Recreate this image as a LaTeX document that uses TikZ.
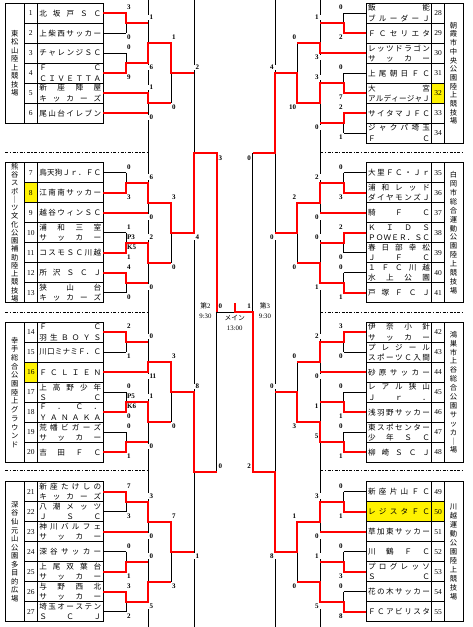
\documentclass[tikz,border=0pt]{standalone}
\usepackage{fontspec}
\setmainfont{Liberation Serif}
\newfontfamily\jp{Noto Sans CJK JP}
\newcommand\nmbox[1]{\makebox[62pt][s]{\spaceskip=0pt plus 1fil\relax #1}}
\newcount\nodecnt
\tikzset{
 autoname/.code={\global\advance\nodecnt by 1\relax\pgfkeysalso{/tikz/name=nd\the\nodecnt}},
 every node/.append style={autoname},
 bk/.style={black,line width=0.7pt},
 rd/.style={red,line width=2pt,line join=miter},
 box/.style={black,line width=0.7pt},
 dsh/.style={black,line width=1.3pt,dash pattern=on 3pt off 1.5pt on 1.2pt off 1.5pt},
 numt/.style={inner sep=0pt,font=\fontsize{7.5}{8}\selectfont},
 nmt/.style={inner sep=0pt,font={\jp\fontsize{7.6}{9}\selectfont}},
 ven/.style={inner sep=0pt,align=center},
 sc/.style={inner xsep=1pt,inner ysep=0.4pt,font=\fontsize{7}{7}\selectfont\bfseries},
 sl/.style={sc,anchor=west},
 sr/.style={sc,anchor=east},
 gl/.style={sc,anchor=west,fill=white,xshift=-0.6pt,inner xsep=1.6pt},
 gr/.style={sc,anchor=east,fill=white,xshift=0.6pt,inner xsep=2.1pt},
 tm/.style={inner sep=0pt,font=\fontsize{6.8}{7}\selectfont},
}
\newcommand\tmL[3]{\node[numt] at (30.8,#2) {#1};\node[nmt] at (70.3,#2) {\nmbox{#3}};}
\newcommand\tmLL[4]{\node[numt] at (30.8,#2) {#1};\node[nmt] at (70.3,#2-5.2) {\nmbox{#3}};\node[nmt] at (70.3,#2+5.2) {\nmbox{#4}};}
\newcommand\tmR[3]{\node[numt] at (438,#2) {#1};\node[nmt] at (399,#2) {\nmbox{#3}};}
\newcommand\tmRR[4]{\node[numt] at (438,#2) {#1};\node[nmt] at (399,#2-5.2) {\nmbox{#3}};\node[nmt] at (399,#2+5.2) {\nmbox{#4}};}
\newcommand\sco[4]{\node[#1] at (#2,#3) {#4};}
\begin{document}
\begin{tikzpicture}[x=1pt,y=-1pt]
\useasboundingbox (0,0) rectangle (473,627);
% yellow cells
\fill[yellow] (24.3,182.7) rectangle (37.3,202.7);
\fill[yellow] (24.3,362.3) rectangle (37.3,382.3);
\fill[yellow] (431.7,83.3) rectangle (444.3,103.3);
\fill[yellow] (366.3,501.7) rectangle (444.3,521.7);
% tables
\foreach \T/\n in {3.3/6,162.7/7,322.3/7,481.7/7}{
 \pgfmathtruncatemacro\m{\n-1}
 \draw[box] (5.3,\T) rectangle (103.3,{\T+20*\n});
 \draw[box] (24.3,\T) -- (24.3,{\T+20*\n}) (37.3,\T) -- (37.3,{\T+20*\n});
 \foreach \i in {1,...,\m} \draw[box] (24.3,{\T+20*\i}) -- (103.3,{\T+20*\i});
}
\foreach \T in {3.3,162.7,322.3,481.7}{
 \draw[box] (366.3,\T) rectangle (463,{\T+140});
 \draw[box] (431.7,\T) -- (431.7,{\T+140}) (444.3,\T) -- (444.3,{\T+140});
 \foreach \i in {1,...,6} \draw[box] (366.3,{\T+20*\i}) -- (444.3,{\T+20*\i});
}
% dashed separators
\foreach \y in {152.3,312.3,470.7}{
 \draw[dsh] (5.3,\y) -- (148.3,\y);
 \draw[dsh] (320.3,\y) -- (463,\y);
}
% long column lines
\foreach \x in {148.3,194.3,275.3,320.3} \draw[bk] (\x,0) -- (\x,627);
% ---------- left bracket (black) ----------
\foreach \y in {13.3,33.3,53.3,73.3,172.7,192.7,232.7,252.7,272.7,292.7,332.3,352.3,392.3,412.3,432.3,452.3,491.7,511.7,551.7,571.7,591.7,611.7}
 \draw[bk] (103.3,\y) -- (126,\y);
\foreach \y in {93.3,113.3,212.7,372.3,531.7} \draw[bk] (103.3,\y) -- (148.3,\y);
\foreach \a/\b/\c in {13.3/33.3/23.3,53.3/73.3/63.3,172.7/192.7/182.7,232.7/252.7/242.7,272.7/292.7/282.7,332.3/352.3/342.3,392.3/412.3/402.3,432.3/452.3/442.3,491.7/511.7/501.7,551.7/571.7/561.7,591.7/611.7/601.7}
 \draw[bk] (126,\a) -- (126,\b) (126,\c) -- (148.3,\c);
\foreach \a/\b/\c in {23.3/63.3/43.3,93.3/113.3/103.3,182.7/212.7/202.7,242.7/282.7/262.7,342.3/372.3/362.3,402.3/442.3/422.3,501.7/531.7/521.7,561.7/601.7/581.7}
 \draw[bk] (148.3,\a) -- (148.3,\b) (148.3,\c) -- (171,\c);
\foreach \a/\b/\c in {43.3/103.3/73.3,202.7/262.7/232.7,362.3/422.3/392.3,521.7/581.7/551.7}
 \draw[bk] (171,\a) -- (171,\b) (171,\c) -- (194.3,\c);
\draw[bk] (194.3,152.5) -- (216.7,152.5) (194.3,472) -- (216.7,472) (216.7,152.5) -- (216.7,472);
% ---------- right bracket (black) ----------
\foreach \y in {13.3,33.3,73.3,93.3,113.3,133.3,172.7,192.7,232.7,252.7,272.7,292.7,332.3,352.3,392.3,412.3,432.3,452.3,491.7,511.7,551.7,571.7,591.7,611.7}
 \draw[bk] (366.3,\y) -- (343.7,\y);
\foreach \y in {53.3,212.7,372.3,531.7} \draw[bk] (366.3,\y) -- (320.3,\y);
\foreach \a/\b/\c in {13.3/33.3/23.3,73.3/93.3/83.3,113.3/133.3/123.3,172.7/192.7/182.7,232.7/252.7/242.7,272.7/292.7/282.7,332.3/352.3/342.3,392.3/412.3/402.3,432.3/452.3/442.3,491.7/511.7/501.7,551.7/571.7/561.7,591.7/611.7/601.7}
 \draw[bk] (343.7,\a) -- (343.7,\b) (343.7,\c) -- (320.3,\c);
\foreach \a/\b/\c in {23.3/53.3/43.3,83.3/123.3/103.3,182.7/212.7/202.7,242.7/282.7/262.7,342.3/372.3/362.3,402.3/442.3/422.3,501.7/531.7/521.7,561.7/601.7/581.7}
 \draw[bk] (320.3,\a) -- (320.3,\b) (320.3,\c) -- (297.3,\c);
\foreach \a/\b/\c in {43.3/103.3/73.3,202.7/262.7/232.7,362.3/422.3/392.3,521.7/581.7/551.7}
 \draw[bk] (297.3,\a) -- (297.3,\b) (297.3,\c) -- (275.3,\c);
\draw[bk] (275.3,152.5) -- (252.7,152.5) (275.3,472) -- (252.7,472) (252.7,152.5) -- (252.7,472);
% final
\draw[bk] (216.7,312) -- (252.7,312);
% ---------- red (winners) ----------
\draw[rd] (103.3,13.3)--(126,13.3)--(126,23.3)--(148.3,23.3);
\draw[rd] (103.3,73.3)--(126,73.3)--(126,63.3)--(148.3,63.3)--(148.3,43.3)--(171,43.3)--(171,73.3)--(194.3,73.3);
\draw[rd] (103.3,93.3)--(148.3,93.3)--(148.3,103.3)--(171,103.3);
\draw[rd] (103.3,113.3)--(148.3,113.3);
\draw[rd] (103.3,192.7)--(126,192.7)--(126,182.7)--(148.3,182.7)--(148.3,202.7)--(171,202.7)--(171,232.7)--(194.3,232.7)--(194.3,152.5)--(216.7,152.5)--(216.7,312);
\draw[rd] (103.3,212.7)--(148.3,212.7);
\draw[rd] (103.3,252.7)--(126,252.7)--(126,242.7)--(148.3,242.7)--(148.3,262.7)--(171,262.7);
\draw[rd] (103.3,272.7)--(126,272.7)--(126,282.7)--(148.3,282.7);
\draw[rd] (103.3,332.3)--(126,332.3)--(126,342.3)--(148.3,342.3);
\draw[rd] (103.3,372.3)--(148.3,372.3)--(148.3,362.3)--(171,362.3)--(171,392.3)--(194.3,392.3)--(194.3,472)--(216.7,472);
\draw[rd] (103.3,412.3)--(126,412.3)--(126,402.3)--(148.3,402.3)--(148.3,422.3)--(171,422.3);
\draw[rd] (103.3,452.3)--(126,452.3)--(126,442.3)--(148.3,442.3);
\draw[rd] (103.3,491.7)--(126,491.7)--(126,501.7)--(148.3,501.7)--(148.3,521.7)--(171,521.7)--(171,551.7)--(194.3,551.7);
\draw[rd] (103.3,531.7)--(148.3,531.7);
\draw[rd] (103.3,571.7)--(126,571.7)--(126,561.7)--(148.3,561.7);
\draw[rd] (103.3,591.7)--(126,591.7)--(126,601.7)--(148.3,601.7)--(148.3,581.7)--(171,581.7);
\draw[rd] (366.3,33.3)--(343.7,33.3)--(343.7,23.3)--(320.3,23.3);
\draw[rd] (366.3,53.3)--(320.3,53.3)--(320.3,43.3)--(297.3,43.3);
\draw[rd] (366.3,93.3)--(343.7,93.3)--(343.7,83.3)--(320.3,83.3)--(320.3,103.3)--(297.3,103.3)--(297.3,73.3)--(275.3,73.3)--(275.3,152.5)--(252.7,152.5);
\draw[rd] (366.3,113.3)--(343.7,113.3)--(343.7,123.3)--(320.3,123.3);
\draw[rd] (366.3,192.7)--(343.7,192.7)--(343.7,182.7)--(320.3,182.7)--(320.3,202.7)--(297.3,202.7)--(297.3,232.7)--(275.3,232.7);
\draw[rd] (366.3,212.7)--(320.3,212.7);
\draw[rd] (366.3,232.7)--(343.7,232.7)--(343.7,242.7)--(320.3,242.7);
\draw[rd] (366.3,292.7)--(343.7,292.7)--(343.7,282.7)--(320.3,282.7)--(320.3,262.7)--(297.3,262.7);
\draw[rd] (366.3,332.3)--(343.7,332.3)--(343.7,342.3)--(320.3,342.3)--(320.3,362.3)--(297.3,362.3);
\draw[rd] (366.3,372.3)--(320.3,372.3);
\draw[rd] (366.3,412.3)--(343.7,412.3)--(343.7,402.3)--(320.3,402.3);
\draw[rd] (366.3,452.3)--(343.7,452.3)--(343.7,442.3)--(320.3,442.3)--(320.3,422.3)--(297.3,422.3)--(297.3,392.3)--(275.3,392.3);
\draw[rd] (366.3,511.7)--(343.7,511.7)--(343.7,501.7)--(320.3,501.7)--(320.3,521.7)--(297.3,521.7)--(297.3,551.7)--(275.3,551.7)--(275.3,472)--(252.7,472)--(252.7,312)--(234.7,312)--(234.7,302.7);
\draw[rd] (366.3,531.7)--(320.3,531.7);
\draw[rd] (366.3,571.7)--(343.7,571.7)--(343.7,561.7)--(320.3,561.7);
\draw[rd] (366.3,611.7)--(343.7,611.7)--(343.7,601.7)--(320.3,601.7)--(320.3,581.7)--(297.3,581.7);
% ---------- venues ----------
\node[ven,font={\jp\fontsize{7.3}{8.5}\selectfont}] at (14.8,63.3) {東\\松\\山\\陸\\上\\競\\技\\場};
\node[ven,font={\jp\fontsize{7.3}{8.25}\selectfont}] at (14.8,232.7) {熊\\谷\\ス\\ポ\\｜\\ツ\\文\\化\\公\\園\\補\\助\\陸\\上\\競\\技\\場};
\node[ven,font={\jp\fontsize{7.3}{8.7}\selectfont}] at (14.8,392.3) {幸\\手\\総\\合\\公\\園\\陸\\上\\グ\\ラ\\ウ\\ン\\ド};
\node[ven,font={\jp\fontsize{7.3}{8.55}\selectfont}] at (14.8,551.7) {深\\谷\\仙\\元\\山\\公\\園\\多\\目\\的\\広\\場};
\node[ven,font={\jp\fontsize{7.3}{8.7}\selectfont}] at (453.6,73.3) {朝\\霞\\市\\中\\央\\公\\園\\陸\\上\\競\\技\\場};
\node[ven,font={\jp\fontsize{7.3}{8.9}\selectfont}] at (453.6,232.7) {白\\岡\\市\\総\\合\\運\\動\\公\\園\\陸\\上\\競\\技\\場};
\node[ven,font={\jp\fontsize{7.3}{8.9}\selectfont}] at (453.6,392.3) {鴻\\巣\\市\\上\\谷\\総\\合\\公\\園\\サ\\ッ\\カ\\｜\\場};
\node[ven,font={\jp\fontsize{7.3}{8.95}\selectfont}] at (453.6,551.7) {川\\越\\運\\動\\公\\園\\陸\\上\\競\\技\\場};
% ---------- teams ----------
\tmL{1}{13.3}{北 坂 戸 Ｓ Ｃ}
\tmL{2}{33.3}{上 柴 西 サ ッ カ ー}
\tmL{3}{53.3}{チ ャ レ ン ジ Ｓ Ｃ}
\tmLL{4}{73.3}{Ｆ Ｃ}{Ｃ Ｉ Ｖ Ｅ Ｔ Ｔ Ａ}
\tmLL{5}{93.3}{新 座 陣 屋}{キ ッ カ ー ズ}
\tmL{6}{113.3}{尾 山 台 イ レ ブ ン}
\tmL{7}{172.7}{鳥 天 狗 Ｊ ｒ ． Ｆ Ｃ}
\tmL{8}{192.7}{江 南 南 サ ッ カ ー}
\tmL{9}{212.7}{越 谷 ウ ィ ン Ｓ Ｃ}
\tmLL{10}{232.7}{浦 和 三 室}{サ ッ カ ー}
\tmL{11}{252.7}{コ ス モ Ｓ Ｃ 川 越}
\tmL{12}{272.7}{所 沢 Ｓ Ｃ Ｊ}
\tmLL{13}{292.7}{狭 山 台}{キ ッ カ ー ズ}
\tmLL{14}{332.3}{Ｆ Ｃ}{羽 生 Ｂ Ｏ Ｙ Ｓ}
\tmL{15}{352.3}{川 口 ミ ナ ミ Ｆ ． Ｃ}
\tmL{16}{372.3}{Ｆ Ｃ Ｌ Ｉ Ｅ Ｎ}
\tmLL{17}{392.3}{上 高 野 少 年}{Ｓ Ｃ}
\tmLL{18}{412.3}{Ｆ ． Ｃ ．}{Ｙ Ａ Ｎ Ａ Ｋ Ａ}
\tmLL{19}{432.3}{荒 幡 ビ ガ ー ズ}{サ ッ カ ー}
\tmL{20}{452.3}{吉 田 Ｆ Ｃ}
\tmLL{21}{491.7}{新 座 た け し の}{キ ッ カ ー ズ}
\tmLL{22}{511.7}{八 潮 メ ッ ツ}{Ｊ Ｓ Ｃ}
\tmLL{23}{531.7}{神 川 バ ル フ ェ}{サ ッ カ ー}
\tmL{24}{551.7}{深 谷 サ ッ カ ー}
\tmLL{25}{571.7}{上 尾 双 葉 台}{サ ッ カ ー}
\tmLL{26}{591.7}{与 野 西 北}{サ ッ カ ー}
\tmLL{27}{611.7}{埼 玉 オ ー ス テ ン}{Ｓ Ｃ Ｊ}
\tmRR{28}{13.3}{飯 能}{ブ ル ー ダ ー Ｊ}
\tmR{29}{33.3}{Ｆ Ｃ セ リ エ タ}
\tmRR{30}{53.3}{レ ッ ツ ド ラ ゴ ン}{サ ッ カ ー}
\tmR{31}{73.3}{上 尾 朝 日 Ｆ Ｃ}
\tmRR{32}{93.3}{大 宮}{ア ル デ ィ ー ジ ャ Ｊ}
\tmR{33}{113.3}{サ イ タ マ Ｊ Ｆ Ｃ}
\tmRR{34}{133.3}{ジ ャ ク パ 埼 玉}{Ｆ Ｃ}
\tmR{35}{172.7}{大 里 Ｆ Ｃ ・ Ｊ ｒ}
\tmRR{36}{192.7}{浦 和 レ ッ ド}{ダ イ ヤ モ ン ズ Ｊ}
\tmR{37}{212.7}{騎 Ｆ Ｃ}
\tmRR{38}{232.7}{Ｋ Ｉ Ｄ Ｓ}{Ｐ Ｏ Ｗ Ｅ Ｒ ． Ｓ Ｃ}
\tmRR{39}{252.7}{春 日 部 幸 松}{Ｊ Ｆ Ｃ}
\tmRR{40}{272.7}{１ Ｆ Ｃ 川 越}{水 上 公 園}
\tmR{41}{292.7}{戸 塚 Ｆ Ｃ Ｊ}
\tmRR{42}{332.3}{伊 奈 小 針}{サ ッ カ ー}
\tmRR{43}{352.3}{プ レ ジ ー ル}{ス ポ ー ツ Ｃ 入 間}
\tmR{44}{372.3}{砂 原 サ ッ カ ー}
\tmRR{45}{392.3}{レ ア ル 狭 山}{Ｊ ｒ ．}
\tmR{46}{412.3}{浅 羽 野 サ ッ カ ー}
\tmRR{47}{432.3}{東 ス ポ セ ン タ ー}{少 年 Ｓ Ｃ}
\tmR{48}{452.3}{柳 崎 Ｓ Ｃ Ｊ}
\tmR{49}{491.7}{新 座 片 山 Ｆ Ｃ}
\tmR{50}{511.7}{レ ジ ス タ Ｆ Ｃ}
\tmR{51}{531.7}{草 加 東 サ ッ カ ー}
\tmR{52}{551.7}{川 鶴 Ｆ Ｃ}
\tmRR{53}{571.7}{プ ロ グ レ ッ ソ}{Ｓ Ｃ}
\tmR{54}{591.7}{花 の 木 サ ッ カ ー}
\tmR{55}{611.7}{Ｆ Ｃ ア ビ リ ス タ}
% ---------- scores left ----------
\sco{sl}{126}{7.5}{3}\sco{sl}{126}{37.5}{0}\sco{sl}{126}{47.5}{0}\sco{sl}{126}{77.5}{9}
\sco{gl}{148.3}{17.5}{1}\sco{gl}{148.3}{67.5}{6}\sco{gl}{148.3}{87.5}{1}\sco{gl}{148.3}{117.5}{0}
\sco{sl}{171}{37.5}{1}\sco{sl}{171}{107.5}{0}
\sco{gl}{194.3}{67.5}{2}
\sco{sl}{126}{166.9}{0}\sco{sl}{126}{196.9}{3}\sco{sl}{126}{226.9}{1}\sco{sl}{126}{236.9}{P3}\sco{sl}{126}{246.9}{K5}\sco{sl}{126}{256.9}{1}\sco{sl}{126}{266.9}{4}\sco{sl}{126}{296.9}{0}
\sco{gl}{148.3}{176.9}{6}\sco{gl}{148.3}{216.9}{0}\sco{gl}{148.3}{236.9}{2}\sco{gl}{148.3}{286.9}{0}
\sco{sl}{171}{196.9}{3}\sco{sl}{171}{266.9}{0}
\sco{gl}{194.3}{236.9}{4}
\sco{sl}{126}{326.5}{2}\sco{sl}{126}{356.5}{1}\sco{sl}{126}{386.5}{0}\sco{sl}{126}{396.5}{P5}\sco{sl}{126}{406.5}{K6}\sco{sl}{126}{416.5}{0}\sco{sl}{126}{426.5}{0}\sco{sl}{126}{456.5}{1}
\sco{gl}{148.3}{336.5}{0}\sco{gl}{148.3}{376.5}{11}\sco{gl}{148.3}{396.5}{1}\sco{gl}{148.3}{446.5}{0}
\sco{sl}{171}{356.5}{3}\sco{sl}{171}{426.5}{0}
\sco{gl}{194.3}{386.5}{8}
\sco{sl}{126}{485.9}{7}\sco{sl}{126}{515.9}{3}\sco{sl}{126}{545.9}{0}\sco{sl}{126}{575.9}{1}\sco{sl}{126}{585.9}{3}\sco{sl}{126}{615.9}{2}
\sco{gl}{148.3}{495.9}{3}\sco{gl}{148.3}{535.9}{0}\sco{gl}{148.3}{555.9}{0}\sco{gl}{148.3}{605.9}{5}
\sco{sl}{171}{515.9}{7}\sco{sl}{171}{585.9}{3}
\sco{gl}{194.3}{555.9}{1}
\sco{sl}{217.3}{158}{3}\sco{sl}{217.3}{466.5}{0}
\sco{sl}{217.3}{306}{0}\sco{sr}{252.1}{306}{1}
% ---------- scores right ----------
\sco{sr}{343.7}{7.5}{0}\sco{sr}{343.7}{37.5}{2}\sco{sr}{343.7}{67.5}{0}\sco{sr}{343.7}{97.5}{7}\sco{sr}{343.7}{107.5}{2}\sco{sr}{343.7}{137.5}{1}
\sco{gr}{320.3}{17.5}{1}\sco{gr}{320.3}{57.5}{3}\sco{gr}{320.3}{77.5}{3}\sco{gr}{320.3}{127.5}{0}
\sco{sr}{297.3}{37.5}{0}\sco{sr}{297.3}{107.5}{10}
\sco{gr}{275.3}{67.5}{4}
\sco{sr}{252.1}{158}{0}
\sco{sr}{343.7}{166.9}{0}\sco{sr}{343.7}{196.9}{3}\sco{sr}{343.7}{226.9}{2}\sco{sr}{343.7}{256.9}{0}\sco{sr}{343.7}{266.9}{0}\sco{sr}{343.7}{296.9}{1}
\sco{gr}{320.3}{176.9}{2}\sco{gr}{320.3}{216.9}{0}\sco{gr}{320.3}{236.9}{0}\sco{gr}{320.3}{286.9}{1}
\sco{sr}{297.3}{196.9}{2}\sco{sr}{297.3}{266.9}{0}
\sco{gr}{275.3}{236.9}{0}
\sco{sr}{343.7}{326.5}{3}\sco{sr}{343.7}{356.5}{0}\sco{sr}{343.7}{386.5}{0}\sco{sr}{343.7}{416.5}{1}\sco{sr}{343.7}{426.5}{0}\sco{sr}{343.7}{456.5}{1}
\sco{gr}{320.3}{336.5}{2}\sco{gr}{320.3}{376.5}{0}\sco{sr}{319.6}{406.5}{1}\sco{sr}{319.6}{436.5}{5}
\sco{sr}{297.3}{356.5}{0}\sco{sr}{297.3}{426.5}{3}
\sco{gr}{275.3}{386.5}{0}
\sco{sr}{252.1}{466.5}{2}
\sco{sr}{343.7}{485.9}{0}\sco{sr}{343.7}{515.9}{1}\sco{sr}{343.7}{545.9}{0}\sco{sr}{343.7}{575.9}{3}\sco{sr}{343.7}{585.9}{0}\sco{sr}{343.7}{615.9}{8}
\sco{gr}{320.3}{495.9}{3}\sco{gr}{320.3}{535.9}{0}\sco{gr}{320.3}{555.9}{1}\sco{gr}{320.3}{605.9}{5}
\sco{sr}{297.3}{515.9}{1}\sco{sr}{297.3}{585.9}{0}
\sco{gr}{275.3}{555.9}{8}
% ---------- centre labels ----------
\node[tm] at (205.5,306) {{\jp 第}2};
\node[tm] at (205.5,316.5) {9:30};
\node[tm] at (265,306) {{\jp 第}3};
\node[tm] at (265,316.5) {9:30};
\node[tm] at (234.7,318) {\jp メイン};
\node[tm] at (234.7,328) {13:00};
\end{tikzpicture}
\end{document}
